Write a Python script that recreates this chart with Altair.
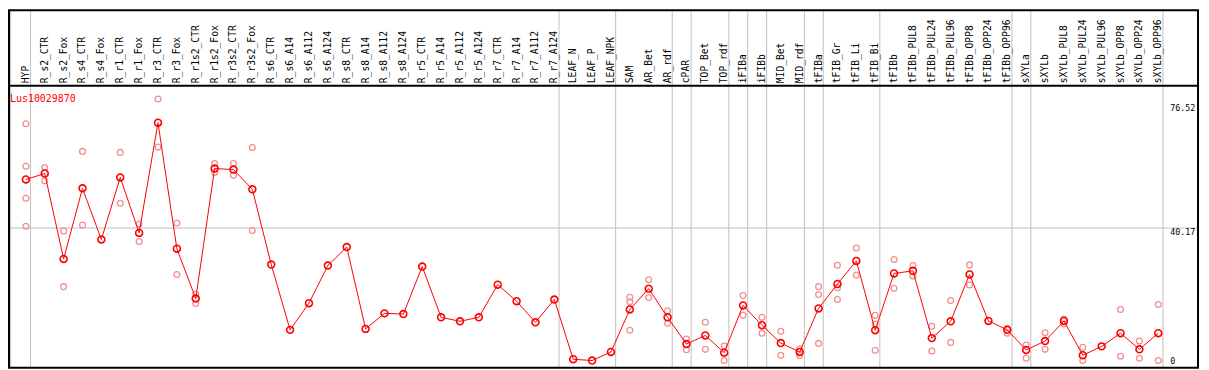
import altair as alt
import pandas as pd

categories = [
    "HYP", "R_s2_CTR", "R_s2_Fox", "R_s4_CTR", "R_s4_Fox", "R_r1_CTR", "R_r1_Fox",
    "R_r3_CTR", "R_r3_Fox", "R_r1s2_CTR", "R_r1s2_Fox", "R_r3s2_CTR", "R_r3s2_Fox",
    "R_s6_CTR", "R_s6_A14", "R_s6_A112", "R_s6_A124", "R_s8_CTR", "R_s8_A14",
    "R_s8_A112", "R_s8_A124", "R_r5_CTR", "R_r5_A14", "R_r5_A112", "R_r5_A124",
    "R_r7_CTR", "R_r7_A14", "R_r7_A112", "R_r7_A124", "LEAF_N", "LEAF_P", "LEAF_NPK",
    "SAM", "AR_Bet", "AR_rdf", "cPAR", "TOP_Bet", "TOP_rdf", "iFIBa", "iFIBb",
    "MID_Bet", "MID_rdf", "tFIBa", "tFIB_Gr", "tFIB_Li", "tFIB_Bi", "tFIBb",
    "tFIBb_PUL8", "tFIBb_PUL24", "tFIBb_PUL96", "tFIBb_OPP8", "tFIBb_OPP24",
    "tFIBb_OPP96", "sXYLa", "sXYLb", "sXYLb_PUL8", "sXYLb_PUL24", "sXYLb_PUL96",
    "sXYLb_OPP8", "sXYLb_OPP24", "sXYLb_OPP96",
]

means = [
    54.9, 56.7, 30.8, 52.2, 36.7, 55.5, 38.7, 72.1, 33.9, 18.8, 58.2, 57.9, 51.9,
    29.1, 9.3, 17.4, 28.8, 34.4, 9.6, 14.3, 14.1, 28.5, 13.1, 11.9, 13.1, 23.0, 18.0,
    11.6, 18.5, 0.4, 0.0, 2.6, 15.5, 21.8, 13.1, 5.0, 7.6, 2.4, 16.7, 10.7, 5.3, 2.6,
    15.8, 23.2, 30.2, 9.2, 26.4, 27.2, 6.8, 11.9, 26.1, 12.0, 9.3, 3.2, 5.9, 12.0,
    1.6, 4.3, 8.3, 3.4, 8.3,
]

replicates = [
    [71.8, 58.9, 49.2, 40.7], [58.5, 54.5], [39.3, 22.4], [63.4, 41.1], [],
    [63.1, 47.7], [41.4, 36.1], [79.3, 64.7], [41.7, 26.1], [20.1, 17.3],
    [59.7, 57.0], [59.7, 56.2], [64.6, 39.4],
    [], [], [], [], [], [], [], [], [], [], [], [], [], [], [], [], [], [], [],
    [19.2, 17.8, 9.2], [24.5, 19.1], [15.1, 11.3], [6.5, 3.3], [11.6, 3.4],
    [4.4, 0.0], [19.7, 13.7], [13.1, 8.3], [8.9, 1.6], [3.5, 1.5],
    [22.4, 20.0, 5.2], [28.9, 22.1, 18.5], [34.1, 25.9], [13.7, 11.1, 3.1],
    [30.6, 21.9], [28.8, 25.6], [10.4, 2.9], [18.2, 5.5], [29.0, 22.9], [],
    [9.8, 8.3], [4.7, 0.7], [8.4, 3.4], [12.6, 11.1], [4.0, 0.0], [],
    [15.5, 1.3], [5.9, 0.7], [17.0, 0.0],
]

group_ends = ["HYP", "R_r7_A124", "LEAF_NPK", "AR_rdf", "cPAR", "TOP_rdf", "iFIBa",
              "iFIBb", "MID_rdf", "tFIBa", "tFIB_Bi", "tFIBb_OPP96", "sXYLa",
              "sXYLb_OPP96"]
group_start = ["HYP"]

gene = "Lus10029870"
tick_values = [0, 76.52]
tick_labels = ["0", "76.52"]
mid_value = [40.17]
mid_label = ["40.17"]

mean_df = pd.DataFrame({"cat": categories, "val": means})
rep_df = pd.DataFrame(
    [{"cat": c, "val": v} for c, reps in zip(categories, replicates) for v in reps]
)
end_df = pd.DataFrame({"cat": group_ends})
start_df = pd.DataFrame({"cat": group_start})
tick_df = pd.DataFrame({"val": tick_values, "label": tick_labels})
mid_df = pd.DataFrame({"val": mid_value, "label": mid_label})
one_df = pd.DataFrame({"a": [0]})

FONT = "DejaVu Sans Mono"
W, H = 1201, 362

xscale = alt.Scale(type="point", domain=categories, range=[18, 1158], padding=0)
yscale = alt.Scale(domain=[0, 40.17], range=[353.7, 220.3], nice=False, zero=False)
X = alt.X("cat:N", scale=xscale, axis=None)
Y = alt.Y("val:Q", scale=yscale, axis=None)

frame = alt.Chart(one_df).mark_rect(
    fillOpacity=0, stroke="black", strokeWidth=2
).encode(x=alt.value(1), x2=alt.value(1198), y=alt.value(1), y2=alt.value(361))

header_sep = alt.Chart(one_df).mark_rule(color="black", strokeWidth=2).encode(
    x=alt.value(0), x2=alt.value(1198), y=alt.value(77)
)

hline = alt.Chart(mid_df).mark_rule(color="#c0c0c0", strokeWidth=1).encode(
    x=alt.value(1), x2=alt.value(1198), y=Y
)

vlines_end = alt.Chart(end_df).mark_rule(
    color="#c0c0c0", strokeWidth=1, xOffset=4.7
).encode(x=X, y=alt.value(0), y2=alt.value(361))

vlines_start = alt.Chart(start_df).mark_rule(
    color="#c0c0c0", strokeWidth=1, xOffset=-15.3
).encode(x=X, y=alt.value(0), y2=alt.value(361))

header = alt.Chart(mean_df).mark_text(
    angle=270, align="left", baseline="middle", font=FONT, fontSize=9.7,
    color="black"
).encode(x=X, y=alt.value(74.5), text="cat:N")

reps = alt.Chart(rep_df).mark_point(
    shape="circle", filled=False, color="#f09090", size=34, strokeWidth=1.3,
    opacity=1
).encode(x=X, y=Y)

line = alt.Chart(mean_df).mark_line(color="#ff0000", strokeWidth=1).encode(x=X, y=Y)

pts = alt.Chart(mean_df).mark_point(
    shape="circle", filled=False, color="#ff0000", size=48, strokeWidth=1.6,
    opacity=1
).encode(x=X, y=Y)

title = alt.Chart(one_df).mark_text(
    text=gene, align="left", baseline="middle", font=FONT, fontSize=10,
    color="#ff0000"
).encode(x=alt.value(2), y=alt.value(90))

ticks_main = alt.Chart(tick_df).mark_text(
    align="left", baseline="middle", font=FONT, fontSize=8.4, color="black"
).encode(x=alt.value(1170), y=Y, text="label:N")

ticks_mid = alt.Chart(mid_df).mark_text(
    align="left", baseline="middle", font=FONT, fontSize=8.4, color="black", dy=4.5
).encode(x=alt.value(1170), y=Y, text="label:N")

chart = alt.layer(
    hline, vlines_end, vlines_start, header_sep, frame, header,
    reps, line, pts, title, ticks_main, ticks_mid
).properties(
    width=W, height=H,
    autosize=alt.AutoSizeParams(type="none"),
    padding=0,
).configure_view(stroke=None)

chart.save("out.html", embed_options={"renderer": "svg", "actions": False})
